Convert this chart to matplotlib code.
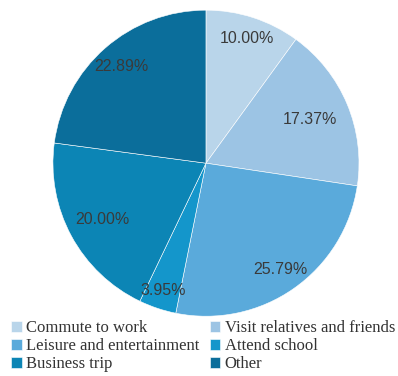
import numpy as np
import matplotlib.pyplot as plt

categories = ["Commute to work", "Visit relatives and friends", "Leisure and entertainment",
              "Attend school", "Business trip", "Other"]
shares = [10.00, 17.37, 25.79, 3.95, 20.00, 22.89]
colors = ["#b9d5ea", "#9cc4e4", "#5aaadb", "#1496cb", "#0c85b5", "#0b6e9b"]
# radial position of each percentage label (fraction of radius)
label_r = [0.86, 0.74, 0.85, 0.88, 0.77, 0.84]

fig = plt.figure(figsize=(3.98, 3.76), dpi=100)
ax = fig.add_axes([0.133, 0.159, 0.769, 0.814])

wedges, _ = ax.pie(shares, colors=colors, startangle=90, counterclock=False,
                   wedgeprops=dict(edgecolor="white", linewidth=0.4))
ax.set_aspect("auto")
ax.set_xlim(-1, 1)
ax.set_ylim(-1, 1)

for w, val, r in zip(wedges, shares, label_r):
    ang = np.deg2rad((w.theta1 + w.theta2) / 2)
    ax.text(r * np.cos(ang), r * np.sin(ang), f"{val:.2f}%", ha="center", va="center",
            fontsize=11.5, color="#3a3a3a", family="Liberation Sans")

order = [0, 2, 4, 1, 3, 5]
leg = fig.legend([wedges[i] for i in order], [categories[i] for i in order],
                 loc="upper left", bbox_to_anchor=(0.028, 0.148), ncol=2,
                 frameon=False, handlelength=0.65, handleheight=0.65,
                 handletextpad=0.25, columnspacing=0.6, labelspacing=0.12,
                 borderaxespad=0, borderpad=0,
                 prop=dict(family="Liberation Serif", size=12))
for t in leg.get_texts():
    t.set_color("#333333")

fig.savefig("out.png", dpi=100)
